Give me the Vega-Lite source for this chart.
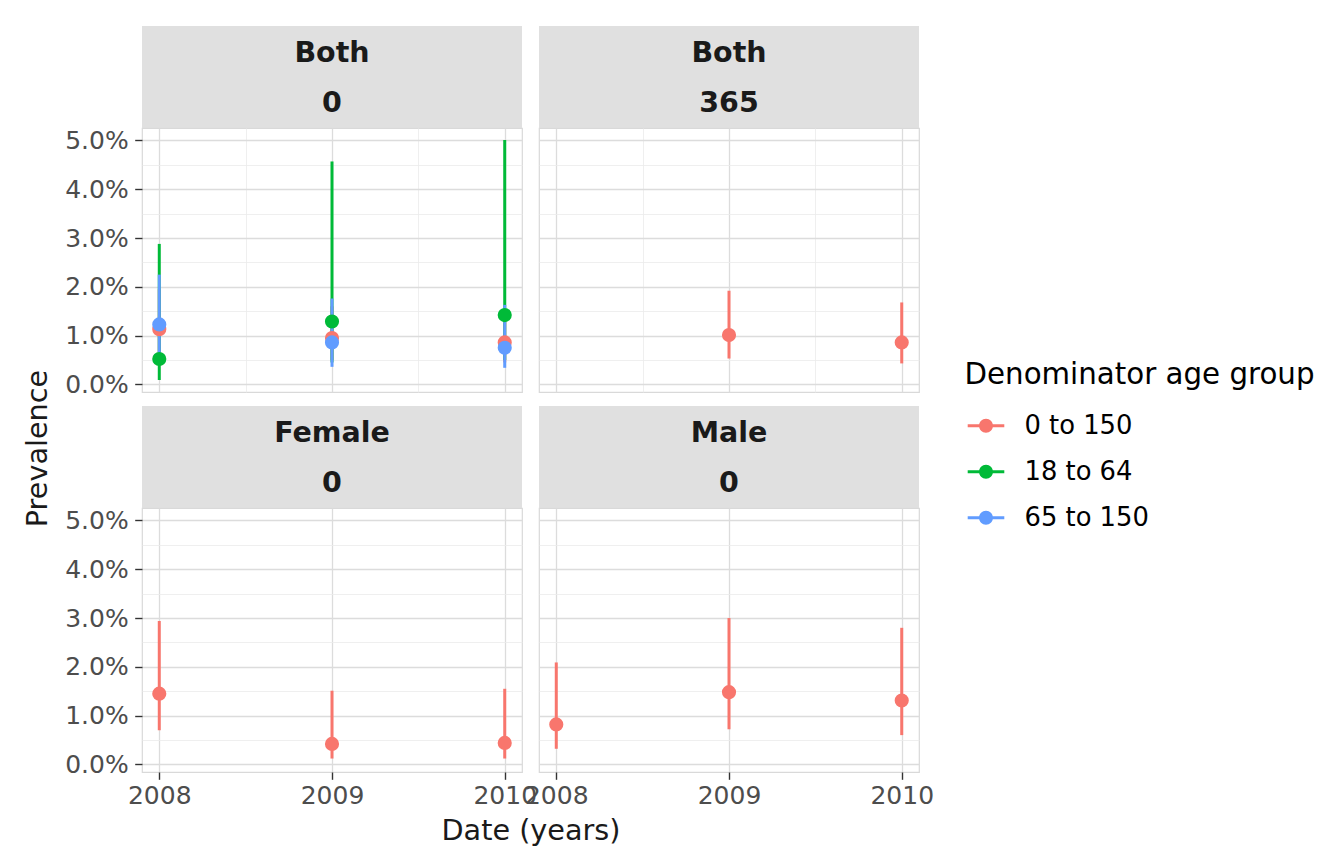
{
  "$schema": "https://vega.github.io/schema/vega-lite/v6.json",
  "background": "white",
  "padding": {"left": 22, "top": 26, "right": 5, "bottom": 5},
  "datasets": {
    "prev": [
      {"sex": "Both", "window": "0", "group": "0 to 150", "year": 2008, "est": 0.0113, "lower": 0.0065, "upper": 0.0195},
      {"sex": "Both", "window": "0", "group": "0 to 150", "year": 2009, "est": 0.0095, "lower": 0.0050, "upper": 0.0160},
      {"sex": "Both", "window": "0", "group": "0 to 150", "year": 2010, "est": 0.0086, "lower": 0.0045, "upper": 0.0150},
      {"sex": "Both", "window": "0", "group": "18 to 64", "year": 2008, "est": 0.0052, "lower": 0.0009, "upper": 0.0288},
      {"sex": "Both", "window": "0", "group": "18 to 64", "year": 2009, "est": 0.0129, "lower": 0.0045, "upper": 0.0457},
      {"sex": "Both", "window": "0", "group": "18 to 64", "year": 2010, "est": 0.0142, "lower": 0.0050, "upper": 0.0501},
      {"sex": "Both", "window": "0", "group": "65 to 150", "year": 2008, "est": 0.0123, "lower": 0.0055, "upper": 0.0225},
      {"sex": "Both", "window": "0", "group": "65 to 150", "year": 2009, "est": 0.0086, "lower": 0.0036, "upper": 0.0176},
      {"sex": "Both", "window": "0", "group": "65 to 150", "year": 2010, "est": 0.0075, "lower": 0.0034, "upper": 0.0163},
      {"sex": "Both", "window": "365", "group": "0 to 150", "year": 2009, "est": 0.0101, "lower": 0.0053, "upper": 0.0192},
      {"sex": "Both", "window": "365", "group": "0 to 150", "year": 2010, "est": 0.0086, "lower": 0.0043, "upper": 0.0168},
      {"sex": "Female", "window": "0", "group": "0 to 150", "year": 2008, "est": 0.0145, "lower": 0.0070, "upper": 0.0294},
      {"sex": "Female", "window": "0", "group": "0 to 150", "year": 2009, "est": 0.0042, "lower": 0.0012, "upper": 0.0151},
      {"sex": "Female", "window": "0", "group": "0 to 150", "year": 2010, "est": 0.0044, "lower": 0.0012, "upper": 0.0155},
      {"sex": "Male", "window": "0", "group": "0 to 150", "year": 2008, "est": 0.0082, "lower": 0.0032, "upper": 0.0209},
      {"sex": "Male", "window": "0", "group": "0 to 150", "year": 2009, "est": 0.0148, "lower": 0.0072, "upper": 0.0300},
      {"sex": "Male", "window": "0", "group": "0 to 150", "year": 2010, "est": 0.0131, "lower": 0.0060, "upper": 0.0280}
    ],
    "strips": [
      {"sex": "Both", "window": "0"},
      {"sex": "Both", "window": "365"},
      {"sex": "Female", "window": "0"},
      {"sex": "Male", "window": "0"}
    ]
  },
  "concat": [
    {
      "width": 380, "height": 102,
      "data": {"name": "strips"},
      "transform": [{"filter": "datum.sex == 'Both' && datum.window == '0'"}],
      "view": {"fill": "#e0e0e0", "stroke": null},
      "layer": [
        {"mark": {"type": "text", "font": "DejaVu Sans", "fontWeight": "bold", "fontSize": 28.5, "color": "#1a1a1a", "baseline": "middle", "dy": -24}, "encoding": {"text": {"field": "sex", "type": "nominal"}}},
        {"mark": {"type": "text", "font": "DejaVu Sans", "fontWeight": "bold", "fontSize": 28.5, "color": "#1a1a1a", "baseline": "middle", "dy": 26}, "encoding": {"text": {"field": "window", "type": "nominal"}}}
      ]
    },
    {
      "width": 380, "height": 102,
      "data": {"name": "strips"},
      "transform": [{"filter": "datum.sex == 'Both' && datum.window == '365'"}],
      "view": {"fill": "#e0e0e0", "stroke": null},
      "layer": [
        {"mark": {"type": "text", "font": "DejaVu Sans", "fontWeight": "bold", "fontSize": 28.5, "color": "#1a1a1a", "baseline": "middle", "dy": -24}, "encoding": {"text": {"field": "sex", "type": "nominal"}}},
        {"mark": {"type": "text", "font": "DejaVu Sans", "fontWeight": "bold", "fontSize": 28.5, "color": "#1a1a1a", "baseline": "middle", "dy": 26}, "encoding": {"text": {"field": "window", "type": "nominal"}}}
      ]
    },
    {
      "width": 380, "height": 264,
      "data": {"name": "prev"},
      "transform": [{"filter": "datum.sex == 'Both' && datum.window == '0'"}],
      "view": {"stroke": "#d9d9d9", "strokeWidth": 1.2},
      "encoding": {
        "x": {"field": "year", "type": "quantitative", "scale": {"domain": [2007.9, 2010.1], "nice": false, "zero": false},
          "axis": {"values": [2008, 2008.5, 2009, 2009.5, 2010], "labels": false, "ticks": false, "domain": false, "title": null, "grid": true,
            "gridColor": {"condition": {"test": "datum.value % 1 != 0", "value": "#ebebeb"}, "value": "#dcdcdc"},
            "gridWidth": {"condition": {"test": "datum.value % 1 != 0", "value": 0.8}, "value": 1.3}}},
        "y": {"field": "est", "type": "quantitative", "scale": {"domain": [-0.00156, 0.05256], "nice": false, "zero": false},
          "axis": {"values": [0, 0.005, 0.01, 0.015, 0.02, 0.025, 0.03, 0.035, 0.04, 0.045, 0.05], "format": ".1%",
            "labelExpr": "round(datum.value*200) % 2 == 1 ? '' : datum.label", "labelOverlap": false, "labelPadding": 6.5,
            "tickOpacity": {"condition": {"test": "round(datum.value*200) % 2 == 1", "value": 0}, "value": 1},
            "domain": false, "grid": true,
            "gridColor": {"condition": {"test": "round(datum.value*200) % 2 == 1", "value": "#ebebeb"}, "value": "#dcdcdc"},
            "gridWidth": {"condition": {"test": "round(datum.value*200) % 2 == 1", "value": 0.8}, "value": 1.3},
            "title": "Prevalence", "titleX": -104.5, "titleY": 320, "titleAngle": -90, "titleAlign": "center", "titleBaseline": "middle"}},
        "color": {"field": "group", "type": "nominal", "scale": {"domain": ["0 to 150", "18 to 64", "65 to 150"], "range": ["#F8766D", "#00BA38", "#619CFF"]}, "legend": {"title": "Denominator age group"}}
      },
      "layer": [
        {"mark": {"type": "rule", "strokeWidth": 3},
          "encoding": {"y": {"field": "lower", "type": "quantitative", "scale": {"domain": [-0.00156, 0.05256], "nice": false, "zero": false}}, "y2": {"field": "upper"}}},
        {"mark": {"type": "point", "filled": true, "size": 200, "opacity": 1}}
      ]
    },
    {
      "width": 380, "height": 264,
      "data": {"name": "prev"},
      "transform": [{"filter": "datum.sex == 'Both' && datum.window == '365'"}],
      "view": {"stroke": "#d9d9d9", "strokeWidth": 1.2},
      "encoding": {
        "x": {"field": "year", "type": "quantitative", "scale": {"domain": [2007.9, 2010.1], "nice": false, "zero": false},
          "axis": {"values": [2008, 2008.5, 2009, 2009.5, 2010], "labels": false, "ticks": false, "domain": false, "title": null, "grid": true,
            "gridColor": {"condition": {"test": "datum.value % 1 != 0", "value": "#ebebeb"}, "value": "#dcdcdc"},
            "gridWidth": {"condition": {"test": "datum.value % 1 != 0", "value": 0.8}, "value": 1.3}}},
        "y": {"field": "est", "type": "quantitative", "scale": {"domain": [-0.00156, 0.05256], "nice": false, "zero": false},
          "axis": {"values": [0, 0.005, 0.01, 0.015, 0.02, 0.025, 0.03, 0.035, 0.04, 0.045, 0.05], "labels": false, "ticks": false,
            "domain": false, "grid": true, "title": null,
            "gridColor": {"condition": {"test": "round(datum.value*200) % 2 == 1", "value": "#ebebeb"}, "value": "#dcdcdc"},
            "gridWidth": {"condition": {"test": "round(datum.value*200) % 2 == 1", "value": 0.8}, "value": 1.3}}},
        "color": {"field": "group", "type": "nominal", "scale": {"domain": ["0 to 150", "18 to 64", "65 to 150"], "range": ["#F8766D", "#00BA38", "#619CFF"]}, "legend": {"title": "Denominator age group"}}
      },
      "layer": [
        {"mark": {"type": "rule", "strokeWidth": 3},
          "encoding": {"y": {"field": "lower", "type": "quantitative", "scale": {"domain": [-0.00156, 0.05256], "nice": false, "zero": false}}, "y2": {"field": "upper"}}},
        {"mark": {"type": "point", "filled": true, "size": 200, "opacity": 1}}
      ]
    },
    {
      "width": 380, "height": 14,
      "data": {"name": "strips"},
      "transform": [{"filter": "false"}],
      "view": {"stroke": null},
      "mark": {"type": "text"}
    },
    {
      "width": 380, "height": 14,
      "data": {"name": "strips"},
      "transform": [{"filter": "false"}],
      "view": {"stroke": null},
      "mark": {"type": "text"}
    },
    {
      "width": 380, "height": 102,
      "data": {"name": "strips"},
      "transform": [{"filter": "datum.sex == 'Female' && datum.window == '0'"}],
      "view": {"fill": "#e0e0e0", "stroke": null},
      "layer": [
        {"mark": {"type": "text", "font": "DejaVu Sans", "fontWeight": "bold", "fontSize": 28.5, "color": "#1a1a1a", "baseline": "middle", "dy": -24}, "encoding": {"text": {"field": "sex", "type": "nominal"}}},
        {"mark": {"type": "text", "font": "DejaVu Sans", "fontWeight": "bold", "fontSize": 28.5, "color": "#1a1a1a", "baseline": "middle", "dy": 26}, "encoding": {"text": {"field": "window", "type": "nominal"}}}
      ]
    },
    {
      "width": 380, "height": 102,
      "data": {"name": "strips"},
      "transform": [{"filter": "datum.sex == 'Male' && datum.window == '0'"}],
      "view": {"fill": "#e0e0e0", "stroke": null},
      "layer": [
        {"mark": {"type": "text", "font": "DejaVu Sans", "fontWeight": "bold", "fontSize": 28.5, "color": "#1a1a1a", "baseline": "middle", "dy": -24}, "encoding": {"text": {"field": "sex", "type": "nominal"}}},
        {"mark": {"type": "text", "font": "DejaVu Sans", "fontWeight": "bold", "fontSize": 28.5, "color": "#1a1a1a", "baseline": "middle", "dy": 26}, "encoding": {"text": {"field": "window", "type": "nominal"}}}
      ]
    },
    {
      "width": 380, "height": 264,
      "data": {"name": "prev"},
      "transform": [{"filter": "datum.sex == 'Female' && datum.window == '0'"}],
      "view": {"stroke": "#d9d9d9", "strokeWidth": 1.2},
      "encoding": {
        "x": {"field": "year", "type": "quantitative", "scale": {"domain": [2007.9, 2010.1], "nice": false, "zero": false},
          "axis": {"values": [2008, 2008.5, 2009, 2009.5, 2010], "format": "d", "labelExpr": "datum.value % 1 == 0 ? datum.label : ''",
            "labelOverlap": false, "labelFlush": false, "labelPadding": 4, "domain": false, "grid": true,
            "tickOpacity": {"condition": {"test": "datum.value % 1 != 0", "value": 0}, "value": 1},
            "gridColor": {"condition": {"test": "datum.value % 1 != 0", "value": "#ebebeb"}, "value": "#dcdcdc"},
            "gridWidth": {"condition": {"test": "datum.value % 1 != 0", "value": 0.8}, "value": 1.3},
            "title": "Date (years)", "titleX": 388.5, "titleY": 58, "titleAlign": "center", "titleBaseline": "middle"}},
        "y": {"field": "est", "type": "quantitative", "scale": {"domain": [-0.00156, 0.05256], "nice": false, "zero": false},
          "axis": {"values": [0, 0.005, 0.01, 0.015, 0.02, 0.025, 0.03, 0.035, 0.04, 0.045, 0.05], "format": ".1%",
            "labelExpr": "round(datum.value*200) % 2 == 1 ? '' : datum.label", "labelOverlap": false, "labelPadding": 6.5,
            "tickOpacity": {"condition": {"test": "round(datum.value*200) % 2 == 1", "value": 0}, "value": 1},
            "domain": false, "grid": true, "title": null,
            "gridColor": {"condition": {"test": "round(datum.value*200) % 2 == 1", "value": "#ebebeb"}, "value": "#dcdcdc"},
            "gridWidth": {"condition": {"test": "round(datum.value*200) % 2 == 1", "value": 0.8}, "value": 1.3}}},
        "color": {"field": "group", "type": "nominal", "scale": {"domain": ["0 to 150", "18 to 64", "65 to 150"], "range": ["#F8766D", "#00BA38", "#619CFF"]}, "legend": {"title": "Denominator age group"}}
      },
      "layer": [
        {"mark": {"type": "rule", "strokeWidth": 3},
          "encoding": {"y": {"field": "lower", "type": "quantitative", "scale": {"domain": [-0.00156, 0.05256], "nice": false, "zero": false}}, "y2": {"field": "upper"}}},
        {"mark": {"type": "point", "filled": true, "size": 200, "opacity": 1}}
      ]
    },
    {
      "width": 380, "height": 264,
      "data": {"name": "prev"},
      "transform": [{"filter": "datum.sex == 'Male' && datum.window == '0'"}],
      "view": {"stroke": "#d9d9d9", "strokeWidth": 1.2},
      "encoding": {
        "x": {"field": "year", "type": "quantitative", "scale": {"domain": [2007.9, 2010.1], "nice": false, "zero": false},
          "axis": {"values": [2008, 2008.5, 2009, 2009.5, 2010], "format": "d", "labelExpr": "datum.value % 1 == 0 ? datum.label : ''",
            "labelOverlap": false, "labelFlush": false, "labelPadding": 4, "domain": false, "grid": true, "title": null,
            "tickOpacity": {"condition": {"test": "datum.value % 1 != 0", "value": 0}, "value": 1},
            "gridColor": {"condition": {"test": "datum.value % 1 != 0", "value": "#ebebeb"}, "value": "#dcdcdc"},
            "gridWidth": {"condition": {"test": "datum.value % 1 != 0", "value": 0.8}, "value": 1.3}}},
        "y": {"field": "est", "type": "quantitative", "scale": {"domain": [-0.00156, 0.05256], "nice": false, "zero": false},
          "axis": {"values": [0, 0.005, 0.01, 0.015, 0.02, 0.025, 0.03, 0.035, 0.04, 0.045, 0.05], "labels": false, "ticks": false,
            "domain": false, "grid": true, "title": null,
            "gridColor": {"condition": {"test": "round(datum.value*200) % 2 == 1", "value": "#ebebeb"}, "value": "#dcdcdc"},
            "gridWidth": {"condition": {"test": "round(datum.value*200) % 2 == 1", "value": 0.8}, "value": 1.3}}},
        "color": {"field": "group", "type": "nominal", "scale": {"domain": ["0 to 150", "18 to 64", "65 to 150"], "range": ["#F8766D", "#00BA38", "#619CFF"]}, "legend": {"title": "Denominator age group"}}
      },
      "layer": [
        {"mark": {"type": "rule", "strokeWidth": 3},
          "encoding": {"y": {"field": "lower", "type": "quantitative", "scale": {"domain": [-0.00156, 0.05256], "nice": false, "zero": false}}, "y2": {"field": "upper"}}},
        {"mark": {"type": "point", "filled": true, "size": 200, "opacity": 1}}
      ]
    }
  ],
  "columns": 2,
  "spacing": {"row": 0, "column": 17},
  "bounds": "flush",
  "resolve": {"scale": {"color": "shared"}, "legend": {"color": "shared"}},
  "config": {
    "font": "DejaVu Sans",
    "axis": {"labelFont": "DejaVu Sans", "labelFontSize": 25, "labelColor": "#4d4d4d", "tickColor": "#333333", "tickWidth": 1.4, "tickSize": 7.3,
      "titleFont": "DejaVu Sans", "titleFontSize": 28.7, "titleFontWeight": "normal", "titleColor": "#1a1a1a"},
    "legend": {
      "orient": "none", "legendX": 822.5, "legendY": 335,
      "padding": 0,
      "titleFont": "DejaVu Sans", "titleFontSize": 29.3, "titleFontWeight": "normal", "titleColor": "#000000", "titleLimit": 600, "titlePadding": 17,
      "labelFont": "DejaVu Sans", "labelFontSize": 25.8, "labelColor": "#000000", "labelLimit": 400, "labelOffset": 20,
      "symbolType": "M-1,-0.08L1,-0.08L1,0.08L-1,0.08Z M-0.38,0A0.38,0.38 0 1,1 0.38,0A0.38,0.38 0 1,1 -0.38,0Z",
      "symbolSize": 1340, "symbolOffset": 3, "symbolStrokeWidth": 0, "symbolOpacity": 1, "rowPadding": 14
    }
  }
}
